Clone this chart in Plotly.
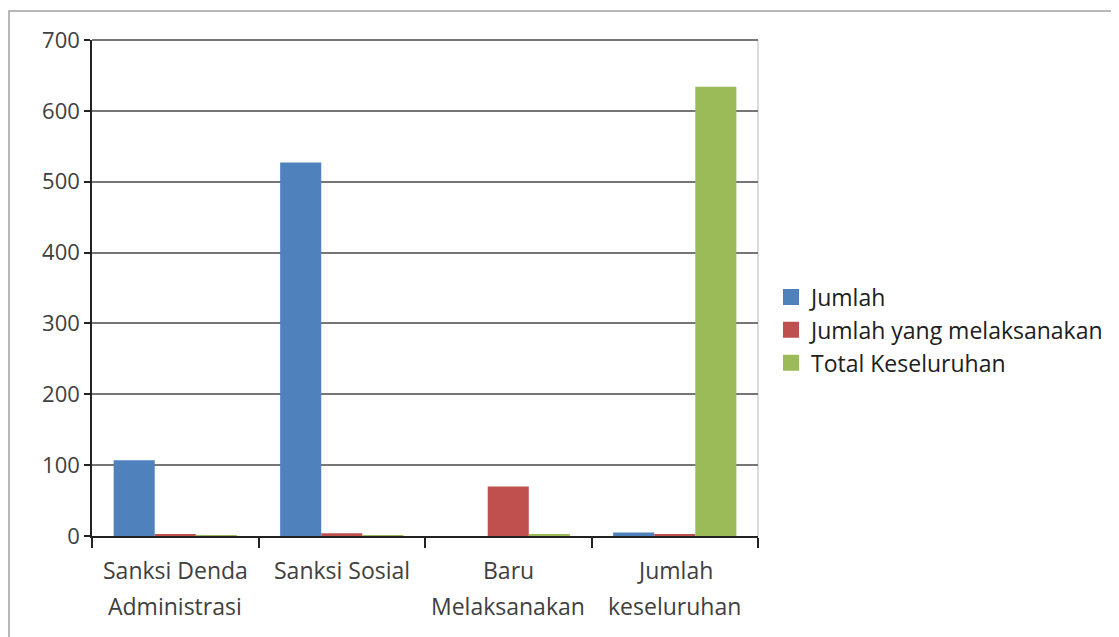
import plotly.graph_objects as go

categories = ["Sanksi Denda<br>Administrasi", "Sanksi Sosial", "Baru<br>Melaksanakan", "Jumlah<br>keseluruhan"]
jumlah = [107, 527, 0, 5]
jumlah_melaksanakan = [2, 4, 70, 2]
total_keseluruhan = [1, 1, 2, 634]
y_ticks = [0, 100, 200, 300, 400, 500, 600, 700]

colors = ["#4F81BD", "#C0504D", "#9BBB59"]
names = ["Jumlah", "Jumlah yang melaksanakan", "Total Keseluruhan"]
series = [jumlah, jumlah_melaksanakan, total_keseluruhan]

fig = go.Figure()
for n, s, c in zip(names, series, colors):
    fig.add_trace(go.Bar(x=categories, y=s, name=n, showlegend=False,
                         marker=dict(color=c, line=dict(width=0))))
# legend entries with larger square swatches
for n, c in zip(names, colors):
    fig.add_trace(go.Scatter(x=[None], y=[None], mode="markers", name=n,
                             marker=dict(symbol="square", size=19, color=c)))

OFF = 8  # page body offset
W, H = 1119, 637
L, T = 92 - OFF, 40 - OFF
pw, ph = 666, 496
R = W - L - pw
B = H - T - ph

FONT = "Open Sans"
FS = 23
fig.update_layout(
    width=W, height=H,
    margin=dict(l=L, r=R, t=T, b=B),
    paper_bgcolor="white", plot_bgcolor="white",
    barmode="group", bargap=0.26, bargroupgap=0,
    font=dict(family=FONT, size=FS, color="#404040"),
    legend=dict(x=(771 - 92) / pw, y=(536 - 330) / ph, xanchor="left", yanchor="middle",
                font=dict(size=FS, color="#202020"), itemwidth=30, tracegroupgap=0),
    showlegend=True,
)
fig.update_xaxes(
    showline=True, linecolor="#222", linewidth=1.5,
    ticks="outside", tickson="boundaries", ticklen=10, tickcolor="#222", tickwidth=1.5,
    showticklabels=False, showgrid=False, mirror=False,
)
fig.update_yaxes(
    range=[0, 700], tickvals=y_ticks,
    showline=True, linecolor="#222", linewidth=1.5,
    ticks="outside", ticklen=6, tickcolor="#222", tickwidth=1.5,
    showgrid=True, gridcolor="#767676", gridwidth=2, zeroline=False,
    tickfont=dict(size=22, color="#404040"),
)
# category labels, one annotation per line for Excel-like line spacing
for cat in categories:
    for i, line in enumerate(cat.split("<br>")):
        fig.add_annotation(x=cat, xref="x", y=0, yref="paper", text=line,
                           showarrow=False, xanchor="center", yanchor="middle",
                           yshift=-34 - 36 * i,
                           font=dict(family=FONT, size=FS, color="#404040"))
# top gridline (700)
fig.add_shape(type="line", xref="paper", yref="paper", x0=0, x1=1, y0=1, y1=1,
              line=dict(color="#767676", width=2))
# plot area right border
fig.add_shape(type="line", xref="paper", yref="paper", x0=1, x1=1, y0=0, y1=1,
              line=dict(color="#D0D0D0", width=1.5), layer="below")
# outer chart border
fig.add_shape(type="rect", xref="paper", yref="paper",
              x0=(9 - 92) / pw, x1=(1125 - 92) / pw,
              y0=-(650 - 536) / ph, y1=1 + (40 - 11) / ph,
              line=dict(color="#A0A0A0", width=1.5), layer="below")

fig.write_html("out.html")
